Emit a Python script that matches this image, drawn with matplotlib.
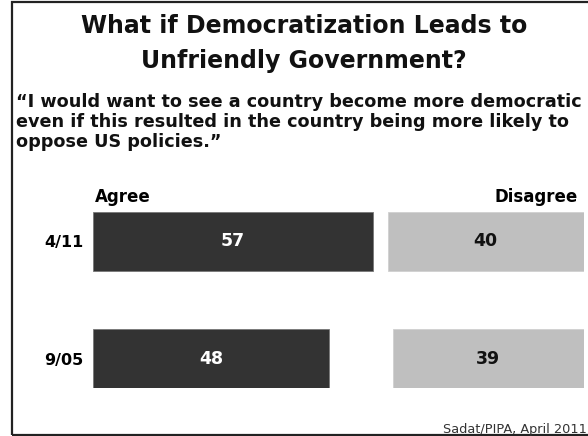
import matplotlib
matplotlib.use("Agg")
import matplotlib.pyplot as plt
from matplotlib.patches import Rectangle

dates = ["4/11", "9/05"]
agree = [57, 48]
disagree = [40, 39]
series_names = ["Agree", "Disagree"]
title_lines = ["What if Democratization Leads to", "Unfriendly Government?"]
subtitle_lines = ["\u201cI would want to see a country become more democratic",
                  "even if this resulted in the country being more likely to",
                  "oppose US policies.\u201d"]
source = "Sadat/PIPA, April 2011"

W, H = 588, 436
plt.rcParams['font.family'] = ['DejaVu Sans']
fig = plt.figure(figsize=(W / 100, H / 100), dpi=100)

def fx(px):
    return px / W

def fy(py):
    return 1 - py / H

# border
fig.patches.append(Rectangle((fx(12), fy(435)), fx(600) - fx(12), fy(2) - fy(435),
                             transform=fig.transFigure, fill=False,
                             edgecolor="#222222", linewidth=1.6))

for line, base in zip(title_lines, [33, 68]):
    fig.text(fx(304), fy(base), line, ha="center", va="baseline", fontsize=17,
             fontweight="bold", color="#111111")
for line, base in zip(subtitle_lines, [107, 127, 147]):
    fig.text(fx(16), fy(base), line, ha="left", va="baseline", fontsize=12.7,
             fontweight="bold", color="#111111")

ax_left, ax_right = 93, 584
ax_top, ax_bot = 212, 388
ax = fig.add_axes([fx(ax_left), fy(ax_bot), fx(ax_right) - fx(ax_left), fy(ax_top) - fy(ax_bot)])
bh = 0.504
ypos = list(range(len(dates)))
ax.barh(ypos, agree, height=bh, color="#333333", edgecolor="#777777", linewidth=0.6)
ax.barh(ypos, disagree, left=[100 - d for d in disagree], height=bh,
        color="#bfbfbf", edgecolor="#d0d0d0", linewidth=0.6)
for y, a, d in zip(ypos, agree, disagree):
    ax.text(a / 2, y, str(a), ha="center", va="center", color="white",
            fontsize=12.5, fontweight="bold")
    ax.text(100 - d / 2, y, str(d), ha="center", va="center", color="#111111",
            fontsize=12.5, fontweight="bold")
ax.set_xlim(0, 100)
ax.set_ylim(len(dates) - 1 + bh / 2, -bh / 2)
ax.set_yticks(ypos)
ax.set_yticklabels(dates, fontsize=11.5, fontweight="bold")
ax.tick_params(axis="y", length=0, pad=7)
ax.set_xticks([])
for s in ax.spines.values():
    s.set_visible(False)
ax.patch.set_alpha(0)

ax.text(0.4, -bh / 2 - 0.085, series_names[0], ha="left", va="baseline", fontsize=12,
        fontweight="bold")
ax.text(98.8, -bh / 2 - 0.085, series_names[1], ha="right", va="baseline", fontsize=12,
        fontweight="bold")

fig.text(fx(587), fy(433), source, ha="right", va="baseline", fontsize=9.3,
         color="#333333")

fig.savefig("out.png", dpi=100)
